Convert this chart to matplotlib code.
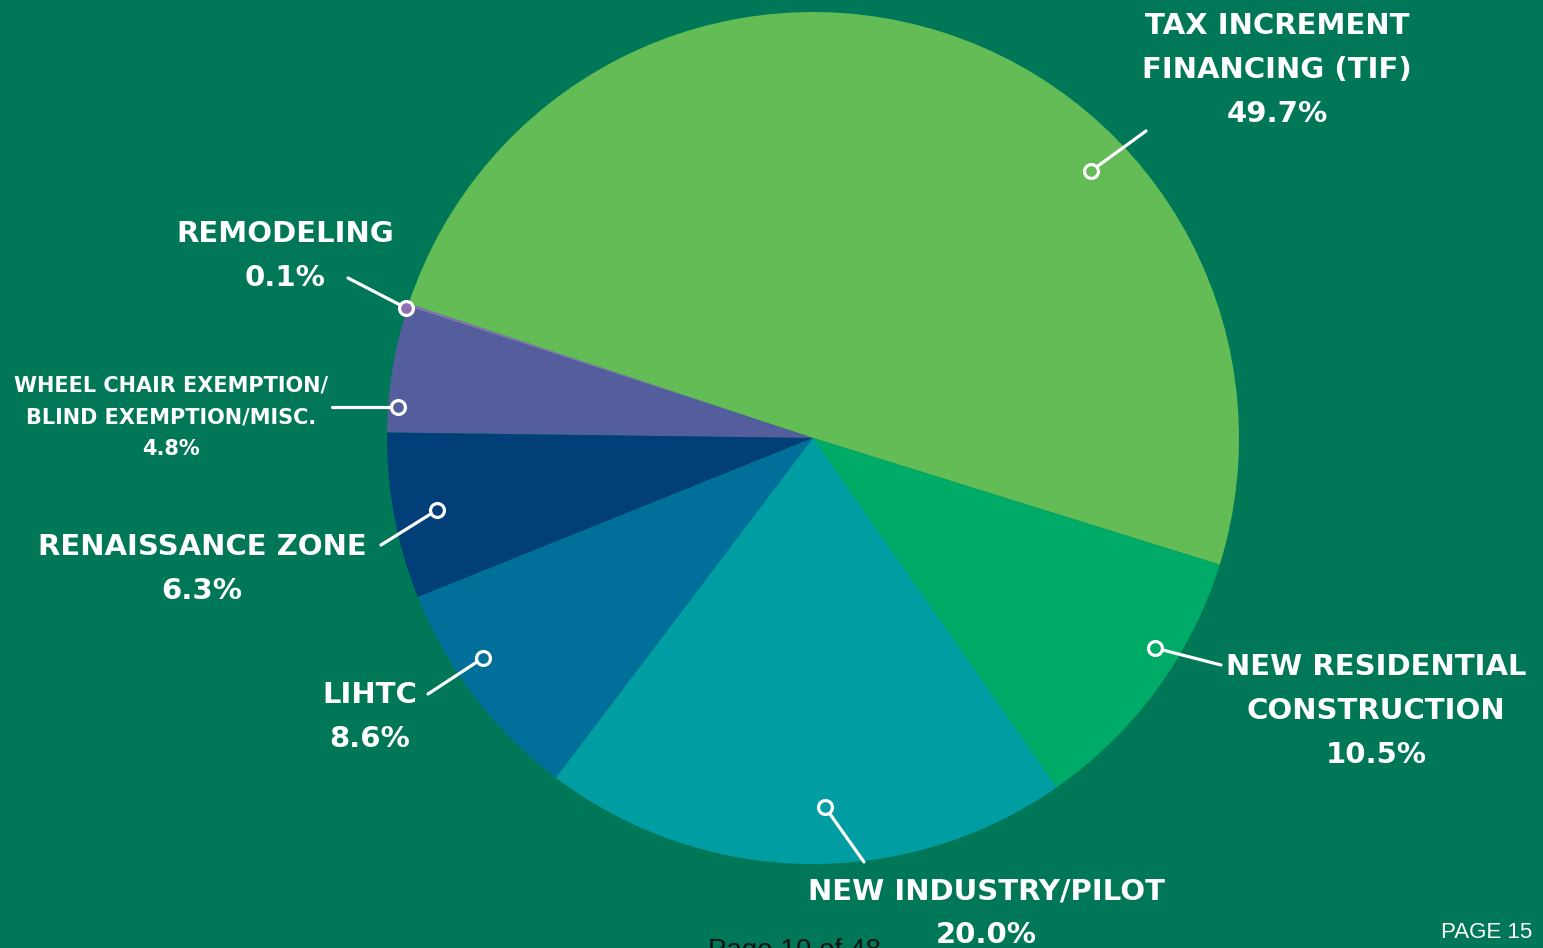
import numpy as np
import matplotlib.pyplot as plt

# Share of tax incentive by program (percent)
categories = ["TAX INCREMENT\nFINANCING (TIF)", "REMODELING",
              "WHEEL CHAIR EXEMPTION/\nBLIND EXEMPTION/MISC.", "RENAISSANCE ZONE",
              "LIHTC", "NEW INDUSTRY/PILOT", "NEW RESIDENTIAL\nCONSTRUCTION"]
shares = [49.7, 0.1, 4.8, 6.3, 8.6, 20.0, 10.5]
colors = ["#63BC55", "#8C6FB5", "#545E9D", "#003F78", "#00709B", "#009DA3", "#00AB67"]

bg = "#007857"
W, H = 1543, 948

fig = plt.figure(figsize=(W / 100, H / 100), dpi=100, facecolor=bg)
ax = fig.add_axes([0, 0, 1, 1])
ax.set_facecolor(bg)

cx, cy, r = 813, H - 438, 426
wedges, _ = ax.pie(shares, colors=colors, startangle=-17.3, counterclock=True,
                   center=(cx, cy), radius=r, wedgeprops=dict(linewidth=0))
ax.set_xlim(0, W)
ax.set_ylim(0, H)
ax.set_aspect("equal")
ax.axis("off")

# label layout: (text center x, first line y, line step, font size, dot xy, line end xy)
layout = [
    (1277, 26, 44, 21, (1091, 171), (1146, 131)),
    (285, 234, 44, 21, (406, 308), (348, 278)),
    (171, 385, 32, 15, (398, 407), (332, 407)),
    (202, 547, 44, 21, (437, 510), (381, 545)),
    (370, 695, 44, 21, (483, 658), (428, 694)),
    (986, 891, 44, 21, (825, 807), (864, 862)),
    (1376, 667, 44, 21, (1155, 648), (1221, 665)),
]

font = ["DejaVu Sans"]
for name, val, col, (tx, ty, step, fs, dot, end) in zip(categories, shares, colors, layout):
    lines = name.split("\n") + [f"{val:.1f}%"]
    for i, line in enumerate(lines):
        ax.text(tx, H - (ty + i * step), line, ha="center", va="center",
                color="white", fontsize=fs, fontweight="bold", family=font)
    ax.plot([dot[0], end[0]], [H - dot[1], H - end[1]], color="white", lw=2.3,
            solid_capstyle="round", zorder=5)
    ax.plot(dot[0], H - dot[1], "o", ms=10, mfc=col, mec="white", mew=2.3, zorder=6)

ax.text(1532, H - 933, "PAGE 15", ha="right", va="center", color="white",
        fontsize=16, family="Liberation Sans")
ax.text(794, H - 938, "Page 10 of 48", ha="center", va="top", color="#111111",
        fontsize=20, family="Liberation Sans", clip_on=False)

fig.savefig("out.png", dpi=100, facecolor=bg)
